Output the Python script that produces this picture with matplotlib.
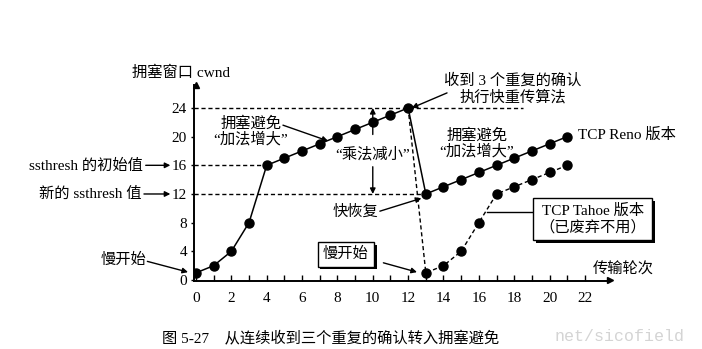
import matplotlib.pyplot as plt
import matplotlib.patheffects as pe

plt.rcParams['font.family'] = ['Liberation Serif', 'Noto Sans CJK SC', 'DejaVu Sans']

# TCP Reno: slow start, congestion avoidance, fast recovery
reno_rounds = [0, 1, 2, 3, 4, 5, 6, 7, 8, 9, 10, 11, 12, 13, 14, 15, 16, 17, 18, 19, 20, 21]
reno_cwnd = [1, 2, 4, 8, 16, 17, 18, 19, 20, 21, 22, 23, 24, 12, 13, 14, 15, 16, 17, 18, 19, 20]

# TCP Tahoe after the loss at round 12 (back to slow start)
tahoe_rounds = [12, 13, 14, 15, 16, 17, 18, 19, 20, 21]
tahoe_cwnd = [24, 1, 2, 4, 8, 12, 13, 14, 15, 16]

x_ticks = [0, 2, 4, 6, 8, 10, 12, 14, 16, 18, 20, 22]
y_ticks = [0, 4, 8, 12, 16, 20, 24]

ssthresh_init = 16
ssthresh_new = 12
cwnd_peak = 24

fig = plt.figure(figsize=(7.02, 3.49), dpi=100)
ax = fig.add_axes([0.2764, 0.1948, 0.5926, 0.5616])
ax.set_xlim(-0.11, 23.42)
ax.set_ylim(-0.14, 27.2)

for s in ['top', 'right']:
    ax.spines[s].set_visible(False)
ax.spines['left'].set_linewidth(1.4)
ax.spines['bottom'].set_linewidth(1.4)
ax.spines['left'].set_position(('data', -0.11))
ax.plot(1, 0, '>k', ms=5, transform=ax.get_yaxis_transform(), clip_on=False)
ax.plot(0, 1, '^k', ms=5, transform=ax.get_xaxis_transform(), clip_on=False)

ax.set_xticks(x_ticks)
ax.set_xticks(range(0, 23), minor=True)
ax.set_yticks(y_ticks)
ax.tick_params(axis='x', which='both', direction='in', length=4, width=1, labelsize=11, pad=8)
ax.tick_params(axis='y', length=2, width=1, labelsize=11, pad=3)

dash = dict(color='k', lw=1, dashes=(3, 2))
ax.plot([-0.11, 18.5], [cwnd_peak, cwnd_peak], **dash)
ax.plot([-0.11, 4], [ssthresh_init, ssthresh_init], **dash)
ax.plot([-0.11, 13], [ssthresh_new, ssthresh_new], **dash)

ax.plot(tahoe_rounds, tahoe_cwnd, color='k', lw=1, dashes=(3, 2), marker='o', ms=6.5,
        markevery=list(range(1, len(tahoe_rounds))), zorder=3)
ax.plot(reno_rounds, reno_cwnd, color='k', lw=1.1, marker='o', ms=6.5, zorder=4)

cjk = 11
arrow = dict(arrowstyle='-|>', color='k', lw=1, mutation_scale=8, shrinkA=0, shrinkB=0)

ax.text(-3.62, 28.9, '拥塞窗口 cwnd', fontsize=cjk, ha='left', va='center', clip_on=False)

ax.annotate('ssthresh 的初始值', xy=(-1.45, ssthresh_init), xytext=(-3.0, ssthresh_init),
            fontsize=cjk, ha='right', va='center', arrowprops=arrow, annotation_clip=False)
ax.annotate('新的 ssthresh 值', xy=(-1.45, ssthresh_new), xytext=(-3.1, ssthresh_new),
            fontsize=cjk, ha='right', va='center', arrowprops=arrow, annotation_clip=False)

ax.text(-2.83, 2.8, '慢开始', fontsize=cjk, ha='right', va='center')
ax.annotate('', xy=(-0.45, 1.1), xytext=(-2.75, 2.6), arrowprops=arrow, annotation_clip=False)

ax.text(3.11, 20.8, '拥塞避免\n“加法增大”', fontsize=cjk, ha='center', va='center',
        linespacing=1.1)
ax.annotate('', xy=(7.47, 19.4), xytext=(4.92, 21.6), arrowprops=arrow)

ax.text(17.93, 26.6, '收到 3 个重复的确认\n执行快重传算法', fontsize=cjk, ha='center',
        va='center', linespacing=1.2, clip_on=False)
ax.annotate('', xy=(12.2, 24.0), xytext=(14.2, 26.1), arrowprops=arrow, annotation_clip=False)

# multiplicative decrease marker between 24 and 12
ax.annotate('', xy=(10, cwnd_peak), xytext=(10, 20.3), arrowprops=arrow)
ax.annotate('', xy=(10, ssthresh_new), xytext=(10, 15.8), arrowprops=arrow)
ax.text(10, 17.5, '“乘法减小”', fontsize=cjk, ha='center', va='center')

ax.text(15.9, 19.1, '拥塞避免\n“加法增大”', fontsize=cjk, ha='center', va='center',
        linespacing=1.1)
ax.text(21.6, 20.2, 'TCP Reno 版本', fontsize=cjk, ha='left', va='center', clip_on=False)

ax.text(7.7, 9.5, '快恢复', fontsize=cjk, ha='left', va='center')
ax.annotate('', xy=(12.75, 11.4), xytext=(10.4, 9.6), arrowprops=arrow)

shadow = [pe.SimplePatchShadow(offset=(2, -2), shadow_rgbFace='k', alpha=1), pe.Normal()]

t = ax.text(8.48, 3.6, '慢开始', fontsize=cjk, ha='center', va='center',
            bbox=dict(boxstyle='square,pad=0.35', fc='white', ec='k', lw=1))
t.get_bbox_patch().set_path_effects(shadow)
ax.annotate('', xy=(12.5, 1.1), xytext=(10.6, 2.4), arrowprops=arrow)

ax.plot([16.46, 19.0], [9.5, 9.5], color='k', lw=1, clip_on=False)
t = ax.text(22.45, 8.5, 'TCP Tahoe 版本\n（已废弃不用）', fontsize=cjk, ha='center',
            va='center', linespacing=1.15, zorder=5, clip_on=False,
            bbox=dict(boxstyle='square,pad=0.4', fc='white', ec='k', lw=1))
t.get_bbox_patch().set_path_effects(shadow)

ax.text(22.45, 1.4, '传输轮次', fontsize=cjk, ha='left', va='center', clip_on=False)

fig.text(0.231, 0.031, '图 5-27    从连续收到三个重复的确认转入拥塞避免', fontsize=cjk,
         ha='left', va='center')
fig.text(0.79, 0.037, 'net/sicofield', fontsize=12, family='Liberation Mono',
         color='#d4d4d4', ha='left', va='center')

fig.savefig('out.png', dpi=100)
